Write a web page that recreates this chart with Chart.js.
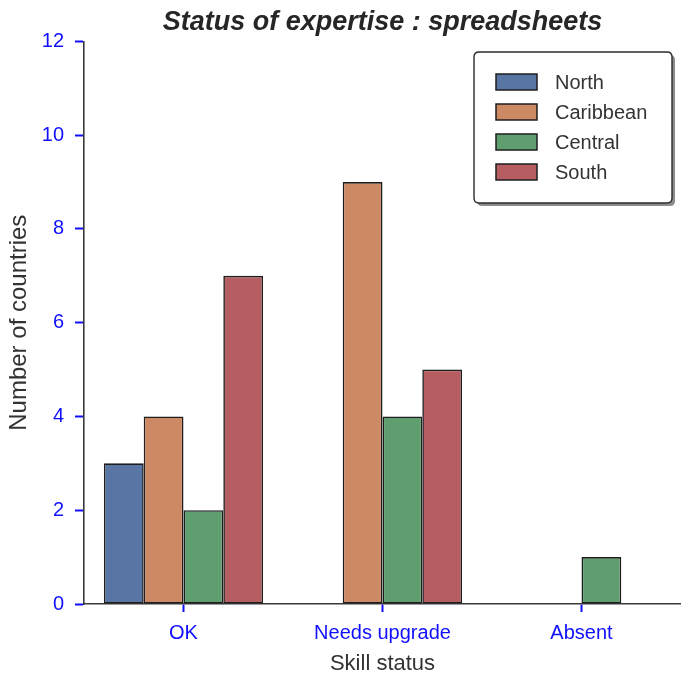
<!DOCTYPE html>
<html>
<head>
<meta charset="utf-8">
<script src="https://cdn.jsdelivr.net/npm/chart.js@4.4.1/dist/chart.umd.min.js"></script>
<style>
  html, body { margin: 0; padding: 0; background: #ffffff; }
  #wrap { width: 681px; height: 677px; position: relative; }
</style>
</head>
<body>
<div id="wrap"><canvas id="c" width="681" height="677"></canvas></div>
<script>
const categories = ["OK", "Needs upgrade", "Absent"];
const seriesNames = ["North", "Caribbean", "Central", "South"];
const north = [3, 0, 0];
const caribbean = [4, 9, 0];
const central = [2, 4, 1];
const south = [7, 5, 0];
const yTicks = [0, 2, 4, 6, 8, 10, 12];

const colors = ["#5975a4", "#cc8963", "#5f9e6e", "#b55d60"];
const seriesValues = [north, caribbean, central, south];

const FONT = "'Liberation Sans', Arial, Helvetica, sans-serif";
const TICK_BLUE = "#1010ff";

const legendBox = {
  id: 'legendBox',
  afterDraw(chart) {
    const ctx = chart.ctx;
    const x = 474, y = 52, w = 198, h = 151, r = 5;
    ctx.save();
    ctx.fillStyle = "rgba(0,0,0,0.45)";
    roundRect(ctx, x + 3, y + 3, w, h, r); ctx.fill();
    ctx.fillStyle = "#ffffff";
    roundRect(ctx, x, y, w, h, r); ctx.fill();
    ctx.strokeStyle = "#2b2b2b";
    ctx.lineWidth = 1.4;
    roundRect(ctx, x, y, w, h, r); ctx.stroke();
    ctx.font = "20px " + FONT;
    ctx.textBaseline = "middle";
    chart.data.datasets.forEach((ds, i) => {
      const cy = 82 + i * 30;
      ctx.fillStyle = ds.backgroundColor;
      ctx.fillRect(496, cy - 8, 41, 16);
      ctx.strokeStyle = "#1e1e1e";
      ctx.lineWidth = 1.5;
      ctx.strokeRect(496, cy - 8, 41, 16);
      ctx.fillStyle = "#333333";
      ctx.fillText(ds.label, 555, cy + 1);
    });
    ctx.restore();
  }
};
function roundRect(ctx, x, y, w, h, r) {
  ctx.beginPath();
  ctx.moveTo(x + r, y);
  ctx.lineTo(x + w - r, y);
  ctx.quadraticCurveTo(x + w, y, x + w, y + r);
  ctx.lineTo(x + w, y + h - r);
  ctx.quadraticCurveTo(x + w, y + h, x + w - r, y + h);
  ctx.lineTo(x + r, y + h);
  ctx.quadraticCurveTo(x, y + h, x, y + h - r);
  ctx.lineTo(x, y + r);
  ctx.quadraticCurveTo(x, y, x + r, y);
  ctx.closePath();
}

new Chart(document.getElementById('c'), {
  type: 'bar',
  data: {
    labels: categories,
    datasets: seriesNames.map((name, i) => ({
      label: name,
      data: seriesValues[i],
      backgroundColor: colors[i],
      borderColor: "#1e1e1e",
      borderWidth: 1.6,
      borderSkipped: false,
      categoryPercentage: 0.8,
      barPercentage: 1.0
    }))
  },
  options: {
    responsive: false,
    animation: false,
    devicePixelRatio: 1,
    layout: { padding: { left: 0, right: 0, top: 0, bottom: 0 } },
    plugins: {
      legend: { display: false },
      tooltip: { enabled: false },
      title: {
        display: true,
        fullSize: false,
        text: "Status of expertise : spreadsheets",
        color: "#262626",
        font: { family: FONT, size: 27, weight: 'bold', style: 'italic' },
        padding: { top: 6, bottom: 3 }
      }
    },
    scales: {
      x: {
        grid: { display: true, offset: false, drawOnChartArea: false, drawTicks: true, tickLength: 8, tickColor: TICK_BLUE, tickWidth: 2 },
        border: { display: true, color: "#3a3a3a", width: 1.6 },
        ticks: { color: TICK_BLUE, font: { family: FONT, size: 20 }, padding: 9, maxRotation: 0 },
        title: { display: true, text: "Skill status", color: "#333333", font: { family: FONT, size: 22 }, padding: { top: 2, bottom: 0 } },
        afterFit(scale) { scale.height = 73; }
      },
      y: {
        min: 0, max: 12,
        afterBuildTicks(scale) { scale.ticks = yTicks.map(v => ({ value: v })); },
        grid: { display: true, drawOnChartArea: false, drawTicks: true, tickLength: 9, tickColor: TICK_BLUE, tickWidth: 2 },
        border: { display: true, color: "#3a3a3a", width: 1.6 },
        ticks: { color: TICK_BLUE, font: { family: FONT, size: 20 }, padding: 11 },
        title: { display: true, text: "Number of countries", color: "#333333", font: { family: FONT, size: 24 }, padding: { top: 5, bottom: 4 } },
        afterFit(scale) { scale.width = 84; }
      }
    }
  },
  plugins: [legendBox]
});
</script>
</body>
</html>
